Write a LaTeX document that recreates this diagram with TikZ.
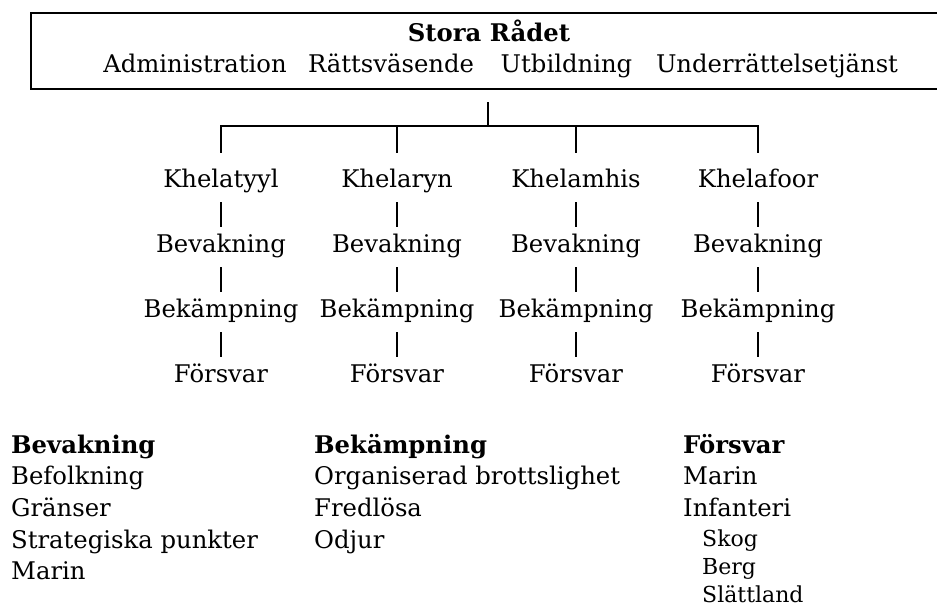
\documentclass[tikz,border=0pt]{standalone}
\usepackage{fontspec}
\setmainfont{DejaVu Serif}
\begin{document}
\begin{tikzpicture}[x=1pt,y=-1pt,
  txt/.style={font=\fontsize{24.3}{31.7}\selectfont, inner sep=0pt, anchor=base},
  bold/.style={txt, font=\fontsize{24.3}{31.7}\selectfont\bfseries},
  row/.style={txt, text height=18pt, text depth=6pt},
  hd/.style={bold, anchor=base west},
  item/.style={txt, anchor=base west},
  subitem/.style={inner sep=0pt, anchor=base west, font=\fontsize{22}{28}\selectfont},
  tree/.style={line width=1.3pt},
  pipe/.style={line width=1.3pt, shorten <=9pt, shorten >=7pt},
  frame/.style={line width=2.4pt}]
\useasboundingbox (0,0) rectangle (937,608);
% council box (right side runs past the page edge)
\draw[frame] (960,13) -- (31,13) -- (31,89) -- (960,89);
\node[bold] (council) at (489,41) {Stora Rådet};
\node[txt] (adm) at (195,72) {Administration};
\node[txt] (ratt) at (391,72) {Rättsväsende};
\node[txt] (utb) at (566.5,72) {Utbildning};
\node[txt] (und) at (777,72) {Underrättelsetjänst};
% columns
\foreach \n/\x/\name in {1/221/Khelatyyl,2/397/Khelaryn,3/576/Khelamhis,4/758/Khelafoor}{
  \node[row] (k\n) at (\x,187) {\name};
  \node[row] (bv\n) at (\x,252) {Bevakning};
  \node[row] (bk\n) at (\x,317) {Bekämpning};
  \node[row] (f\n) at (\x,382) {Försvar};
  \draw[pipe] (k\n.south) -- (bv\n.north);
  \draw[pipe] (bv\n.south) -- (bk\n.north);
  \draw[pipe] (bk\n.south) -- (f\n.north);
}
% tree
\coordinate (top) at (488,102);
\coordinate (junc) at (488,126);
\draw[tree] (top) -- (junc);
\foreach \n in {1,2,3,4}{
  \draw[tree, shorten >=16pt] (junc) -| (k\n.north);
}
% lists
\node[hd] (h1) at (11,453) {Bevakning};
\node[item] (h1a) at (11,484.7) {Befolkning};
\node[item] (h1b) at (11,516.4) {Gränser};
\node[item] (h1c) at (11,548.1) {Strategiska punkter};
\node[item] (h1d) at (11,579.8) {Marin};
\node[hd] (h2) at (314,453) {Bekämpning};
\node[item] (h2a) at (314,484.7) {Organiserad brottslighet};
\node[item] (h2b) at (314,516.4) {Fredlösa};
\node[item] (h2c) at (314,548.1) {Odjur};
\node[hd] (h3) at (683,453) {Försvar};
\node[item] (h3a) at (683,484.7) {Marin};
\node[item] (h3b) at (683,516.4) {Infanteri};
\node[subitem] (h3c) at (702,546) {Skog};
\node[subitem] (h3d) at (702,574) {Berg};
\node[subitem] (h3e) at (702,602) {Slättland};
\end{tikzpicture}
\end{document}
